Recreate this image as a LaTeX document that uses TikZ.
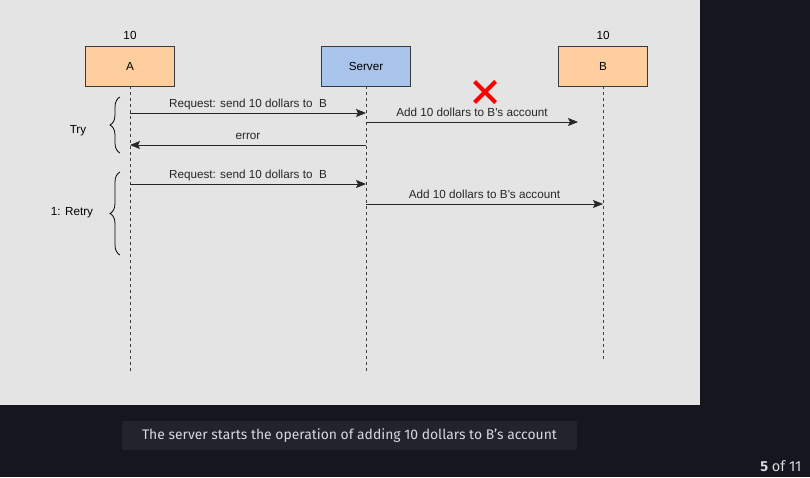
\documentclass[tikz,border=0pt]{standalone}
\usepackage{fontspec}
\setmainfont{Liberation Sans}
\newfontfamily\capfont{Fira Sans}
\usetikzlibrary{arrows.meta,decorations.pathreplacing,shapes.misc}
\definecolor{pagebg}{HTML}{15161E}
\definecolor{panelbg}{HTML}{E4E4E4}
\definecolor{capbg}{HTML}{22232C}
\definecolor{captext}{HTML}{D8D9DE}
\definecolor{peer}{HTML}{FFCE9F}
\definecolor{srv}{HTML}{A9C4EB}
\definecolor{edge}{HTML}{36393D}
\begin{document}
\begin{tikzpicture}[x=1pt,y=-1pt,auto,font=\fontsize{11.7}{14}\selectfont,
  actor/.style={draw=edge,line width=0.9pt,minimum width=89pt,minimum height=40pt,inner sep=0pt},
  life/.style={dash pattern=on 3pt off 3pt,line width=0.8pt,black!75},
  msg/.style={-{Stealth[length=10pt,width=8pt,inset=2pt]},line width=0.8pt,black!85},
  lbl/.style={inner sep=3pt,text height=8.5pt,text depth=2.5pt},
  curly/.style={decorate,decoration={brace,amplitude=10pt},line width=0.8pt}]
\useasboundingbox (0,0) rectangle (810,477);
\fill[pagebg] (0,0) rectangle (810,477);
\fill[panelbg] (0,0) rectangle (700,405);
\node[actor,fill=peer] (a) at (130,66) {A}; \node[actor,fill=srv] (s) at (366,66) {Server}; \node[actor,fill=peer] (b) at (603,66) {B};
\node (ta) at (130,35) {10}; \node (tb) at (603,35) {10};
\coordinate (ae) at (130,371); \coordinate (se) at (366,371); \coordinate (be) at (603,362);
\draw[life] (a) -- (ae); \draw[life] (s) -- (se); \draw[life] (b) -- (be);
\coordinate (a1) at (130,113); \coordinate (s1) at (366,113);
\coordinate (s2) at (366,122); \coordinate (x2) at (578,122);
\coordinate (s3) at (366,145); \coordinate (a3) at (130,145);
\coordinate (a4) at (130,184); \coordinate (s4) at (366,184);
\coordinate (s5) at (366,204); \coordinate (b5) at (603,204);
\draw[msg] (a1) to node[lbl] {Request: send 10 dollars to\ \ B} (s1);
\draw[msg] (s2) to node[lbl] {Add 10 dollars to B\textquotesingle s account} (x2);
\draw[msg] (s3) to node[swap,lbl] {error} (a3);
\draw[msg] (a4) to node[lbl] {Request: send 10 dollars to\ \ B} (s4);
\draw[msg] (s5) to node[lbl] {Add 10 dollars to B\textquotesingle s account} (b5);
\node[cross out,draw=red,line width=4pt,minimum size=17pt,inner sep=0pt] (fail) at (485,92) {};
\coordinate (t0) at (120,153); \coordinate (t1) at (120,97);
\coordinate (r0) at (120,255); \coordinate (r1) at (120,172);
\draw[curly] (t0) -- (t1); \draw[curly] (r0) -- (r1);
\node (try) at (78,131) {Try}; \node (retry) at (72,213) {1: Retry};
\node[fill=capbg,rounded corners=2pt,minimum width=455pt,minimum height=29pt,text=captext,font=\capfont\fontsize{13.9}{16}\selectfont] (cap) at (349.5,435.5) {The server starts the operation of adding 10 dollars to B’s account};
\node[anchor=east,text=captext,font=\capfont\fontsize{14.5}{16}\selectfont] (pg) at (805,466) {\textbf{5} of 11};
\end{tikzpicture}
\end{document}
